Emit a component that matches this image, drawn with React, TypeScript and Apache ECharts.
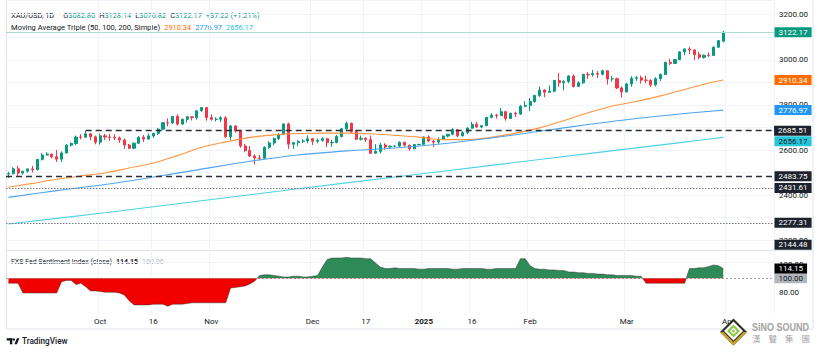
import React, { useEffect, useRef } from 'react';
import * as echarts from 'echarts';

// ---------- DATA ----------
const firstDate = '2024-09-04';
const categoryCount = 159; // trading days incl. empty future space

// [open, high, low, close] per trading day, Sep 4 2024 .. Mar 31 2025
const ohlc: number[][] = [
  [2493.5, 2503.6, 2476.0, 2495.2], [2495.2, 2523.6, 2491.0, 2516.6], [2516.6, 2529.4, 2485.5, 2497.5],
  [2497.5, 2508.0, 2490.3, 2506.2], [2506.2, 2517.6, 2500.1, 2516.1], [2516.1, 2529.2, 2500.2, 2512.5],
  [2512.5, 2560.0, 2509.8, 2558.6], [2558.6, 2586.0, 2553.5, 2577.6], [2577.6, 2589.6, 2575.3, 2582.0],
  [2582.0, 2583.6, 2563.6, 2569.6], [2569.6, 2600.1, 2546.9, 2559.4], [2559.4, 2594.0, 2548.0, 2586.9],
  [2586.9, 2625.8, 2586.0, 2621.6], [2621.6, 2634.0, 2615.0, 2628.9], [2628.9, 2664.0, 2621.9, 2657.4],
  [2657.4, 2670.4, 2647.6, 2657.0], [2657.0, 2685.6, 2654.2, 2672.0], [2672.0, 2674.0, 2643.0, 2658.4],
  [2658.4, 2664.0, 2625.0, 2634.6],
  [2634.6, 2673.0, 2624.0, 2662.8], [2662.8, 2672.0, 2645.0, 2657.5], [2657.5, 2672.0, 2641.0, 2656.3],
  [2656.3, 2670.0, 2643.6, 2653.4], [2653.4, 2660.0, 2632.0, 2644.4], [2644.4, 2651.0, 2604.6, 2622.2],
  [2622.2, 2626.7, 2603.7, 2607.8], [2607.8, 2632.6, 2603.3, 2630.3], [2630.3, 2661.0, 2626.3, 2656.9],
  [2656.9, 2667.0, 2635.7, 2648.7], [2648.7, 2673.6, 2645.6, 2662.6], [2662.6, 2676.0, 2653.0, 2674.0],
  [2674.0, 2697.0, 2667.0, 2692.5], [2692.5, 2722.3, 2688.0, 2721.3], [2721.3, 2740.0, 2704.6, 2720.1],
  [2720.1, 2748.6, 2715.0, 2748.5], [2748.5, 2758.5, 2708.4, 2714.8], [2714.8, 2739.6, 2713.6, 2736.2],
  [2736.2, 2749.6, 2722.0, 2747.3], [2747.3, 2748.6, 2731.0, 2743.6], [2743.6, 2774.0, 2734.0, 2774.0],
  [2774.0, 2790.2, 2770.0, 2788.0], [2788.0, 2790.0, 2730.0, 2744.0],
  [2744.0, 2758.0, 2730.0, 2736.3], [2736.3, 2745.0, 2726.0, 2736.4], [2736.4, 2750.0, 2724.0, 2742.8],
  [2742.8, 2749.5, 2652.5, 2659.0], [2659.0, 2711.0, 2644.0, 2706.5], [2706.5, 2709.5, 2677.0, 2684.6],
  [2684.6, 2686.6, 2610.0, 2618.0], [2618.0, 2627.0, 2589.7, 2598.3], [2598.3, 2618.0, 2569.0, 2573.0],
  [2573.0, 2581.0, 2536.9, 2565.0], [2565.0, 2578.0, 2553.7, 2563.2], [2563.2, 2616.0, 2563.0, 2612.4],
  [2612.4, 2639.0, 2605.0, 2631.0], [2631.0, 2656.0, 2621.0, 2650.6], [2650.6, 2676.0, 2644.0, 2670.1],
  [2670.1, 2716.0, 2667.0, 2715.8], [2715.8, 2721.4, 2605.0, 2625.7], [2625.7, 2635.0, 2605.0, 2633.0],
  [2633.0, 2643.5, 2617.0, 2638.0], [2638.0, 2648.0, 2631.0, 2640.0], [2640.0, 2665.0, 2630.0, 2650.0],
  [2650.0, 2652.0, 2622.0, 2639.0], [2639.0, 2651.0, 2630.0, 2643.0], [2643.0, 2657.0, 2636.0, 2650.0],
  [2650.0, 2655.0, 2613.0, 2632.0], [2632.0, 2645.0, 2614.0, 2633.0], [2633.0, 2667.0, 2630.0, 2660.0],
  [2660.0, 2697.0, 2655.0, 2694.0], [2694.0, 2726.0, 2691.0, 2718.0], [2718.0, 2722.0, 2675.0, 2681.0],
  [2681.0, 2689.0, 2644.0, 2648.0], [2648.0, 2664.0, 2642.0, 2652.0], [2652.0, 2656.0, 2636.0, 2646.0],
  [2646.0, 2664.0, 2583.0, 2586.0], [2586.0, 2626.0, 2583.0, 2594.0], [2594.0, 2632.0, 2584.0, 2622.0],
  [2622.0, 2630.0, 2602.0, 2613.0], [2613.0, 2620.0, 2609.0, 2617.0], [2617.0, 2620.0, 2614.0, 2617.5],
  [2617.5, 2638.0, 2614.0, 2634.0], [2634.0, 2637.0, 2614.0, 2621.0], [2621.0, 2624.0, 2597.0, 2606.0],
  [2606.0, 2627.0, 2603.0, 2624.0], [2624.0, 2627.0, 2620.0, 2625.0],
  [2625.0, 2660.0, 2624.0, 2658.0], [2658.0, 2665.0, 2635.0, 2640.0], [2640.0, 2642.0, 2614.0, 2635.0],
  [2635.0, 2656.0, 2627.0, 2648.0], [2648.0, 2665.0, 2645.0, 2662.0], [2662.0, 2671.0, 2656.0, 2670.0],
  [2670.0, 2697.0, 2665.0, 2690.0], [2690.0, 2692.0, 2656.0, 2663.0], [2663.0, 2683.0, 2660.0, 2677.0],
  [2677.0, 2700.0, 2670.0, 2697.0], [2697.0, 2725.0, 2695.0, 2714.0], [2714.0, 2725.0, 2700.0, 2702.0],
  [2702.0, 2711.0, 2696.0, 2708.0], [2708.0, 2746.0, 2705.0, 2745.0], [2745.0, 2763.0, 2740.0, 2755.0],
  [2755.0, 2760.0, 2740.0, 2753.0], [2753.0, 2786.0, 2751.0, 2770.0], [2770.0, 2772.0, 2730.0, 2740.0],
  [2740.0, 2765.0, 2738.0, 2763.0], [2763.0, 2770.0, 2746.0, 2760.0], [2760.0, 2800.0, 2755.0, 2794.0],
  [2794.0, 2817.0, 2790.0, 2798.0],
  [2798.0, 2830.0, 2772.0, 2815.0], [2815.0, 2845.0, 2809.0, 2842.0], [2842.0, 2882.0, 2835.0, 2866.0],
  [2866.0, 2869.0, 2834.0, 2856.0], [2856.0, 2886.0, 2853.0, 2861.0], [2861.0, 2911.0, 2856.0, 2908.0],
  [2908.0, 2942.0, 2880.0, 2898.0], [2898.0, 2910.0, 2864.0, 2904.0], [2904.0, 2932.0, 2896.0, 2928.0],
  [2928.0, 2935.0, 2877.0, 2882.0], [2882.0, 2905.0, 2881.0, 2898.0], [2898.0, 2939.0, 2893.0, 2935.0],
  [2935.0, 2946.0, 2915.0, 2933.0], [2933.0, 2955.0, 2925.0, 2939.0], [2939.0, 2950.0, 2919.0, 2936.0],
  [2936.0, 2956.0, 2931.0, 2951.0], [2951.0, 2955.0, 2890.0, 2915.0], [2915.0, 2929.0, 2903.0, 2916.0],
  [2916.0, 2921.0, 2870.0, 2875.0], [2875.0, 2882.0, 2832.0, 2857.0],
  [2857.0, 2898.0, 2856.0, 2893.0], [2893.0, 2927.0, 2880.0, 2918.0], [2918.0, 2928.0, 2907.0, 2920.0],
  [2920.0, 2930.0, 2894.0, 2910.0], [2910.0, 2930.0, 2896.0, 2909.0], [2909.0, 2913.0, 2880.0, 2889.0],
  [2889.0, 2923.0, 2881.0, 2916.0], [2916.0, 2940.0, 2906.0, 2935.0], [2935.0, 2990.0, 2932.0, 2989.0],
  [2989.0, 3005.0, 2977.0, 2984.0], [2984.0, 3004.0, 2982.0, 3001.0], [3001.0, 3038.0, 2998.0, 3035.0],
  [3035.0, 3050.0, 3020.0, 3048.0], [3048.0, 3057.0, 3025.0, 3044.0], [3044.0, 3047.0, 2999.0, 3023.0],
  [3023.0, 3036.0, 3002.0, 3011.0], [3011.0, 3024.0, 3005.0, 3020.0], [3020.0, 3033.0, 3012.0, 3019.0],
  [3019.0, 3059.0, 3017.0, 3056.0], [3056.0, 3087.0, 3054.0, 3085.0], [3082.8, 3128.14, 3076.82, 3122.17],
];

// moving averages: [bar index, value]
const ma50: number[][] = [
  [0, 2435], [5, 2452], [10, 2470], [15, 2485], [20, 2498], [25, 2520], [30, 2542], [35, 2575],
  [40, 2612], [45, 2636], [50, 2656], [55, 2667], [60, 2673], [65, 2675], [70, 2675], [75, 2672],
  [80, 2665], [85, 2657], [90, 2646], [95, 2646], [100, 2656], [105, 2675], [110, 2698], [115, 2730],
  [120, 2765], [125, 2795], [130, 2815], [135, 2840], [140, 2868], [145, 2897], [148, 2910.34],
];
const ma100: number[][] = [
  [0, 2390], [10, 2420], [20, 2447], [30, 2480], [40, 2515], [50, 2550], [60, 2578], [70, 2596],
  [80, 2609], [90, 2628], [100, 2653], [110, 2683], [120, 2713], [130, 2740], [140, 2762], [148, 2776.97],
];
const ma200: number[][] = [
  [0, 2272], [20, 2322], [40, 2375], [60, 2428], [80, 2480], [100, 2532], [120, 2584], [140, 2635], [148, 2656.17],
];

// FXS Fed Sentiment Index (close)
const sentiment: number[] = [
  93, 93, 93, 79, 79, 79, 79, 79, 79, 79, 79, 95, 97, 97, 91, 93, 88, 82, 82, 81,
  80, 80, 80, 79, 76, 68, 62, 62, 62, 62, 63, 63, 63, 60, 63, 63, 63, 64, 65, 65,
  65, 65, 65, 65, 65, 65, 86, 87, 88, 89, 92, 96, 104, 105, 105, 104, 103, 102, 102, 103,
  103, 102, 102, 103, 104, 116, 127, 129, 129, 129, 130, 129, 129, 129, 128, 128, 122, 116, 114, 114,
  115, 114, 114, 114, 114, 113, 113, 114, 114, 114, 114, 114, 113, 113, 114, 114, 114, 114, 114, 113,
  113, 114, 114, 114, 114, 114, 128, 128, 118, 114, 113, 113, 112, 112, 111, 111, 109, 109, 108, 108,
  107, 107, 106, 106, 105, 105, 104, 104, 104, 104, 103, 103, 93, 93, 93, 93, 93, 93, 93, 93,
  93, 114, 114, 115, 115, 117, 119, 118, 114.15,
];

const xTickDates = ['2024-10-01', '2024-10-16', '2024-11-01', '2024-12-02', '2024-12-17', '2025-01-02', '2025-01-16', '2025-02-03', '2025-03-03', '2025-04-01'];
const xTickLabels = ['Oct', '16', 'Nov', 'Dec', '17', '2025', '16', 'Feb', 'Mar', 'Apr'];
// price-scale ticks that sit under a price tag and are not drawn
const coveredPriceTicks = [3100, 2900, 2700, 2500, 2300];

const lastPrice = 3122.17;
const ma50Last = 2910.34;
const ma100Last = 2776.97;
const ma200Last = 2656.17;
const levelHigh = 2685.51;
const levelHighStart = 16;
const levelA = 2483.75;
const levelB = 2431.61;
const levelC = 2277.31;
const levelD = 2144.48;
const sentimentBase = 100;
const sentimentLast = 114.15;

// ---------- STYLE ----------
const UP = '#089981';
const DOWN = '#F23645';
const TEXT = '#131722';
const GRID = '#f0f3fa';
const FONT = 'Roboto';
const PX_PER_UNIT = 0.2255; // price scale
const Y3200 = 14.7;

function buildCategories(start: string, n: number): string[] {
  const out: string[] = [];
  const d = new Date(start + 'T00:00:00Z');
  while (out.length < n) {
    const wd = d.getUTCDay();
    if (wd !== 0 && wd !== 6) out.push(d.toISOString().slice(0, 10));
    d.setUTCDate(d.getUTCDate() + 1);
  }
  return out;
}

function dia(cx: number, cy: number, r: number) {
  return [[cx, cy - r], [cx + r, cy], [cx, cy + r], [cx - r, cy]];
}

export default function App() {
  const ref = useRef<HTMLDivElement>(null);
  useEffect(() => {
    if (!ref.current) return;
    const chart = echarts.init(ref.current, undefined, { renderer: 'svg' });
    const categories = buildCategories(firstDate, categoryCount);
    const tickIndex = new Map<number, string>();
    xTickDates.forEach((d, i) => tickIndex.set(categories.indexOf(d), xTickLabels[i]));
    const lastIdx = categories.length - 1;
    const yMax = 3200 + Y3200 / PX_PER_UNIT;
    const yMin = 2100;
    const mainHeight = (yMax - yMin) * PX_PER_UNIT;

    const priceLabel = (value: number, bg: string, color: string, extra: any = {}) => ({
      show: true,
      position: 'end',
      distance: 0.5,
      backgroundColor: bg,
      color,
      fontSize: 8,
      fontFamily: FONT,
      lineHeight: 9,
      padding: [1, 4, 0, 4],
      formatter: value.toFixed(2),
      ...extra,
    });
    const hidden = { color: 'rgba(0,0,0,0)', width: 1 };
    const dashed = { color: '#2a2e39', type: [6, 4], width: 1.3 };
    const dotted = { color: '#787b86', type: [1.5, 1.5], width: 1 };
    const tok = (fill: string, size: number, padLeft = 0, extra: any = {}) => ({
      fill, fontSize: size, fontFamily: FONT, padding: [0, 0, 0, padLeft], ...extra,
    });
    const richText = (x: number, y: number, text: string, rich: any, size: number) => ({
      type: 'text', x, y, silent: true,
      style: { text, rich, fontSize: size, fontFamily: FONT, verticalAlign: 'middle' },
    });

    const option: any = {
      animation: false,
      backgroundColor: '#ffffff',
      grid: [
        { left: 6, width: 768, top: 0, height: mainHeight },
        { left: 6, width: 768, top: 250.3, height: 63 },
      ],
      xAxis: [0, 1].map((g) => ({
        type: 'category',
        gridIndex: g,
        data: categories,
        axisLine: { show: false },
        axisTick: { show: false },
        axisLabel: g === 0 ? { show: false } : {
          interval: (i: number) => tickIndex.has(i),
          formatter: (_v: string, i: number) => {
            const t = tickIndex.get(i) || '';
            return t === '2025' ? '{b|2025}' : t;
          },
          margin: 4,
          fontSize: 8,
          fontFamily: FONT,
          color: TEXT,
          rich: { b: { fontWeight: 'bold', fontSize: 8, fontFamily: FONT, color: TEXT } },
        },
        splitLine: { show: true, interval: (i: number) => tickIndex.has(i), lineStyle: { color: GRID, width: 1 } },
      })),
      yAxis: [
        {
          type: 'value', gridIndex: 0, position: 'right', min: yMin, max: yMax, interval: 100,
          axisLine: { show: false }, axisTick: { show: false },
          splitLine: { lineStyle: { color: GRID, width: 1 } },
          axisLabel: {
            margin: 5, fontSize: 8, fontFamily: FONT, color: TEXT, align: 'left',
            formatter: (v: number) => (v < 2150 || v > 3250 || coveredPriceTicks.includes(v) ? '' : v.toFixed(2)),
          },
        },
        {
          type: 'value', gridIndex: 1, position: 'right', min: 50, max: 140, interval: 10,
          axisLine: { show: false }, axisTick: { show: false }, splitLine: { show: false },
          axisLabel: {
            margin: 5, fontSize: 8, fontFamily: FONT, color: TEXT, align: 'left',
            formatter: (v: number) => (v === 80 || v === 120 ? v.toFixed(2) : ''),
          },
        },
      ],
      visualMap: {
        show: false,
        seriesIndex: 4,
        dimension: 1,
        pieces: [
          { gt: sentimentBase, lte: 1000, color: '#2e8b57' },
          { gte: 0, lte: sentimentBase, color: '#f20000' },
        ],
        outOfRange: { color: '#f20000' },
      },
      series: [
        {
          type: 'candlestick', xAxisIndex: 0, yAxisIndex: 0, z: 3,
          data: ohlc.map(([o, h, l, c]) => [o, c, l, h]),
          barWidth: 2.6,
          itemStyle: { color: UP, color0: DOWN, borderColor: UP, borderColor0: DOWN, borderWidth: 1 },
          markLine: {
            silent: true, symbol: ['none', 'none'],
            data: [
              { yAxis: lastPrice, lineStyle: { color: '#a9ddd4', type: 'solid', width: 1 }, label: priceLabel(lastPrice, UP, '#ffffff') },
              { yAxis: ma50Last, lineStyle: hidden, label: priceLabel(ma50Last, '#FF6D00', '#ffffff') },
              { yAxis: ma100Last, lineStyle: hidden, label: priceLabel(ma100Last, '#2196F3', '#ffffff') },
              [
                { coord: [levelHighStart, levelHigh], lineStyle: dashed, label: priceLabel(levelHigh, '#1e222d', '#ffffff', { distance: 2.5 }) },
                { coord: [lastIdx, levelHigh] },
              ],
              { yAxis: ma200Last, lineStyle: hidden, label: priceLabel(ma200Last, '#26C6DA', TEXT, { offset: [0, 4] }) },
              { yAxis: levelA, lineStyle: dashed, label: priceLabel(levelA, '#1e222d', '#ffffff') },
              { yAxis: levelB, lineStyle: dotted, label: priceLabel(levelB, '#1e222d', '#ffffff') },
              { yAxis: levelC, lineStyle: dotted, label: priceLabel(levelC, '#1e222d', '#ffffff') },
              { yAxis: levelD, lineStyle: hidden, label: priceLabel(levelD, '#1e222d', '#ffffff', { offset: [0, -8] }) },
            ],
          },
        },
        { type: 'line', xAxisIndex: 0, yAxisIndex: 0, data: ma50, showSymbol: false, smooth: 0.3, z: 4, lineStyle: { color: '#ff9440', width: 1.1 } },
        { type: 'line', xAxisIndex: 0, yAxisIndex: 0, data: ma100, showSymbol: false, smooth: 0.3, z: 4, lineStyle: { color: '#4ea4f0', width: 1.1 } },
        { type: 'line', xAxisIndex: 0, yAxisIndex: 0, data: ma200, showSymbol: false, smooth: 0.3, z: 4, lineStyle: { color: '#4fd2e4', width: 1.1 } },
        {
          type: 'line', xAxisIndex: 1, yAxisIndex: 1, data: sentiment, showSymbol: false, z: 3,
          lineStyle: { width: 0.8, color: 'rgba(40,40,40,0.55)' },
          areaStyle: { origin: sentimentBase, opacity: 1 },
          markLine: {
            silent: true, symbol: ['none', 'none'],
            data: [
              { yAxis: sentimentBase, lineStyle: { color: 'rgba(120,123,134,0.7)', type: [2, 2], width: 1 }, label: priceLabel(sentimentBase, '#b2b5be', TEXT) },
              { yAxis: sentimentLast, lineStyle: hidden, label: priceLabel(sentimentLast, '#000000', '#ffffff') },
            ],
          },
        },
      ],
      graphic: [
        { type: 'rect', silent: true, z: -1, shape: { x: 6.5, y: -2, width: 806.5, height: 331 }, style: { fill: 'none', stroke: '#e0e3eb', lineWidth: 1 } },
        { type: 'line', silent: true, z: -1, shape: { x1: 6.5, y1: 250.5, x2: 813, y2: 250.5 }, style: { stroke: '#e0e3eb', lineWidth: 1 } },
        // legend line 1
        richText(11, 15,
          '{t|XAU/USD, 1D}{k1|O}{v|3082.80}{k|H}{v|3128.14}{k|L}{v|3076.82}{k|C}{v|3122.17}{c|+37.22 (+1.21%)}',
          { t: tok(TEXT, 7.4), k1: tok(TEXT, 7.4, 9), k: tok(TEXT, 7.4, 4), v: tok(UP, 7.4), c: tok(UP, 7.4, 4) }, 7.4),
        // legend line 2
        richText(11, 27,
          '{t|Moving Average Triple (50, 100, 200, Simple)}{o|2910.34}{b|2776.97}{c|2656.17}',
          { t: tok(TEXT, 7.6), o: tok('#FF6D00', 7.4, 4), b: tok('#2196F3', 7.4, 4), c: tok('#26C6DA', 7.4, 4) }, 7.6),
        // sentiment title
        richText(11, 261.5,
          '{t|FXS Fed Sentiment Index (close)}{b|114.15}{g|100.00}',
          { t: tok(TEXT, 7), b: tok(TEXT, 7, 4, { fontWeight: 'bold' }), g: tok('#b2b5be', 7, 4) }, 7),
        // TradingView logo
        { type: 'rect', silent: true, shape: { x: 6.7, y: 338.3, width: 5.6, height: 2.2 }, style: { fill: TEXT } },
        { type: 'rect', silent: true, shape: { x: 9.9, y: 338.3, width: 2.4, height: 6 }, style: { fill: TEXT } },
        { type: 'circle', silent: true, shape: { cx: 13.9, cy: 339.5, r: 1.2 }, style: { fill: TEXT } },
        { type: 'polygon', silent: true, shape: { points: [[14.4, 344.3], [16.9, 338.3], [19.4, 338.3], [16.9, 344.3]] }, style: { fill: TEXT } },
        { type: 'text', x: 22, y: 341.3, silent: true, style: { text: 'TradingView', fill: TEXT, fontSize: 8.2, fontWeight: 500, fontFamily: FONT, verticalAlign: 'middle' } },
        // SiNO SOUND logo
        { type: 'polygon', silent: true, z: 10, shape: { points: dia(733.5, 332, 13.5) }, style: { fill: '#2f2f2a' } },
        { type: 'polygon', silent: true, z: 10, shape: { points: [[720, 332], [733.5, 345.5], [747, 332], [743.5, 332], [733.5, 342], [723.5, 332]] }, style: { fill: '#c9a227' } },
        { type: 'polygon', silent: true, z: 10, shape: { points: dia(733.5, 331, 9.5) }, style: { fill: '#ffffff' } },
        { type: 'polygon', silent: true, z: 10, shape: { points: dia(733.5, 331, 6.5) }, style: { fill: '#8dc63f' } },
        { type: 'polygon', silent: true, z: 10, shape: { points: dia(733.5, 331, 3.5) }, style: { fill: '#ffffff' } },
        { type: 'polygon', silent: true, z: 10, shape: { points: dia(733.5, 331, 1.8) }, style: { fill: '#8dc63f' } },
        { type: 'text', x: 752, y: 327.5, scaleX: 0.82, z: 10, silent: true, style: { text: 'SiNO SOUND', fill: '#a3a3a3', stroke: '#ffffff', lineWidth: 0.6, fontSize: 11, fontWeight: 'bold', fontFamily: 'Liberation Sans', verticalAlign: 'middle' } },
        ...['漢', '聲', '集', '團'].map((ch, i) => ({
          type: 'text', x: 752 + i * 16.5, y: 338, z: 10, silent: true,
          style: { text: ch, fill: '#a3a3a3', fontSize: 8.5, fontFamily: 'Noto Sans CJK TC', verticalAlign: 'middle' },
        })),
      ],
    };
    chart.setOption(option);
    return () => chart.dispose();
  }, []);
  return <div ref={ref} style={{ position: 'fixed', left: 0, top: 0, width: 820, height: 353, background: '#fff' }} />;
}
